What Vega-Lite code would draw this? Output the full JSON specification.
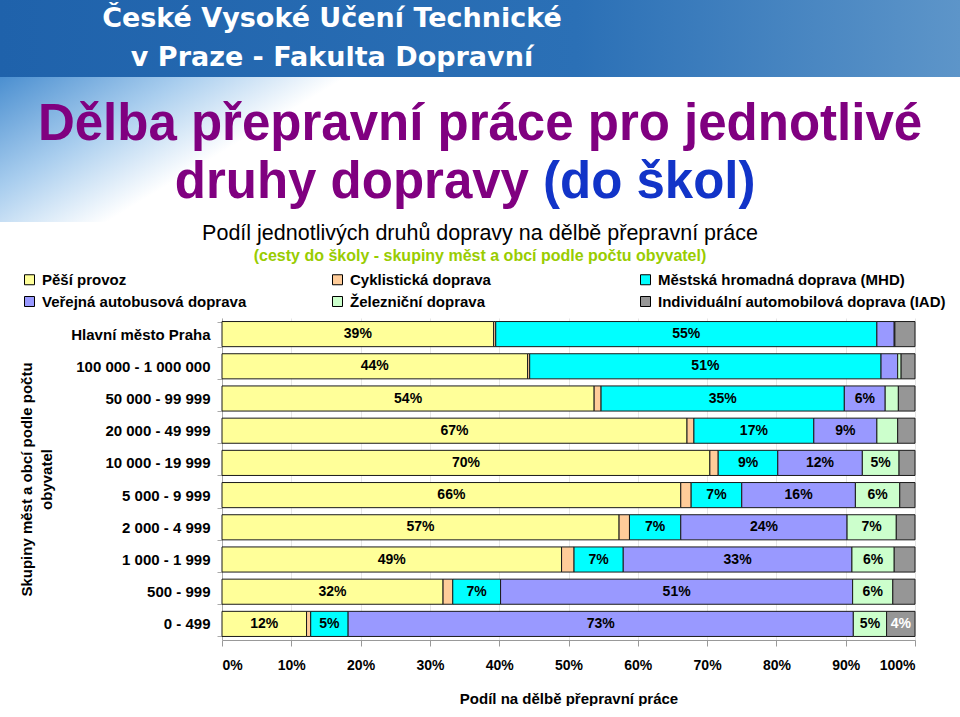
{
  "$schema": "https://vega.github.io/schema/vega-lite/v6.json",
  "padding": 0,
  "spacing": 0,
  "background": "white",
  "config": {"font": "Liberation Sans", "view": {"stroke": null}},
  "resolve": {"scale": {"color": "independent"}, "legend": {"color": "independent"}},
  "vconcat": [
    {
      "width": 960,
      "height": 77,
      "view": {"stroke": null, "fill": {"gradient": "linear", "x1": 0, "y1": 0, "x2": 1, "y2": 0, "stops": [{"offset": 0, "color": "#1f62ab"}, {"offset": 0.6, "color": "#2b70b6"}, {"offset": 1, "color": "#5d95c9"}]}},
      "data": {"values": [{"line": 1, "text": "České Vysoké Učení Technické"}, {"line": 2, "text": "v Praze - Fakulta Dopravní"}]},
      "mark": {"type": "text", "font": "DejaVu Sans", "fontWeight": "bold", "fontSize": 27, "color": "white", "dx": -148},
      "encoding": {
        "y": {"field": "line", "type": "ordinal", "axis": null},
        "text": {"field": "text"}
      }
    },
    {
      "width": 960,
      "height": 145,
      "view": {"stroke": null, "fill": {"gradient": "linear", "x1": 0, "y1": 0, "x2": 1, "y2": 0.25, "stops": [{"offset": 0, "color": "#4b8fd0"}, {"offset": 0.18, "color": "#a8cdee"}, {"offset": 0.34, "color": "#ffffff"}, {"offset": 1, "color": "#ffffff"}]}},
      "data": {"values": [
        {"line": 1, "part": "a", "text": "Dělba přepravní práce pro jednotlivé"},
        {"line": 2, "part": "b", "text": "druhy dopravy"},
        {"line": 2, "part": "c", "text": "(do škol)"}
      ]},
      "encoding": {
        "y": {"field": "line", "type": "ordinal", "axis": null, "scale": {"padding": 0.75}},
        "text": {"field": "text"}
      },
      "layer": [
        {"transform": [{"filter": "datum.part == 'a'"}], "mark": {"type": "text", "font": "Liberation Sans", "fontWeight": "bold", "fontSize": 51, "color": "#800080", "dy": 4}},
        {"transform": [{"filter": "datum.part == 'b'"}], "mark": {"type": "text", "font": "Liberation Sans", "fontWeight": "bold", "fontSize": 51, "color": "#800080", "align": "right", "dx": 49, "dy": 4}},
        {"transform": [{"filter": "datum.part == 'c'"}], "mark": {"type": "text", "font": "Liberation Sans", "fontWeight": "bold", "fontSize": 51, "color": "#1234c8", "align": "left", "dx": 63, "dy": 4}}
      ]
    },
    {
      "width": 960,
      "height": 322,
      "view": {"stroke": null},
      "title": {
        "text": "Podíl jednotlivých druhů dopravy na dělbě přepravní práce",
        "subtitle": "(cesty do školy - skupiny měst a obcí podle počtu obyvatel)",
        "anchor": "middle",
        "frame": "group",
        "font": "Liberation Sans",
        "fontSize": 21.5,
        "fontWeight": "normal",
        "color": "black",
        "subtitleFont": "Liberation Sans",
        "subtitleFontSize": 16,
        "subtitleFontWeight": "bold",
        "subtitleColor": "#99cc00",
        "subtitlePadding": 4,
        "offset": 8
      },
      "data": {"values": [
        {"g": "Hlavní město Praha", "m": "Pěší provoz", "v": 39.2},
        {"g": "Hlavní město Praha", "m": "Cyklistická doprava", "v": 0.3},
        {"g": "Hlavní město Praha", "m": "Městská hromadná doprava (MHD)", "v": 55.0},
        {"g": "Hlavní město Praha", "m": "Veřejná autobusová doprava", "v": 2.5},
        {"g": "Hlavní město Praha", "m": "Železniční doprava", "v": 0.1},
        {"g": "Hlavní město Praha", "m": "Individuální automobilová doprava (IAD)", "v": 2.9},
        {"g": "100 000 - 1 000 000", "m": "Pěší provoz", "v": 44.1},
        {"g": "100 000 - 1 000 000", "m": "Cyklistická doprava", "v": 0.3},
        {"g": "100 000 - 1 000 000", "m": "Městská hromadná doprava (MHD)", "v": 50.7},
        {"g": "100 000 - 1 000 000", "m": "Veřejná autobusová doprava", "v": 2.4},
        {"g": "100 000 - 1 000 000", "m": "Železniční doprava", "v": 0.5},
        {"g": "100 000 - 1 000 000", "m": "Individuální automobilová doprava (IAD)", "v": 2.0},
        {"g": "50 000 - 99 999", "m": "Pěší provoz", "v": 53.7},
        {"g": "50 000 - 99 999", "m": "Cyklistická doprava", "v": 1.0},
        {"g": "50 000 - 99 999", "m": "Městská hromadná doprava (MHD)", "v": 35.1},
        {"g": "50 000 - 99 999", "m": "Veřejná autobusová doprava", "v": 5.9},
        {"g": "50 000 - 99 999", "m": "Železniční doprava", "v": 1.9},
        {"g": "50 000 - 99 999", "m": "Individuální automobilová doprava (IAD)", "v": 2.4},
        {"g": "20 000 - 49 999", "m": "Pěší provoz", "v": 67.1},
        {"g": "20 000 - 49 999", "m": "Cyklistická doprava", "v": 1.0},
        {"g": "20 000 - 49 999", "m": "Městská hromadná doprava (MHD)", "v": 17.3},
        {"g": "20 000 - 49 999", "m": "Veřejná autobusová doprava", "v": 9.1},
        {"g": "20 000 - 49 999", "m": "Železniční doprava", "v": 3.0},
        {"g": "20 000 - 49 999", "m": "Individuální automobilová doprava (IAD)", "v": 2.5},
        {"g": "10 000 - 19 999", "m": "Pěší provoz", "v": 70.4},
        {"g": "10 000 - 19 999", "m": "Cyklistická doprava", "v": 1.2},
        {"g": "10 000 - 19 999", "m": "Městská hromadná doprava (MHD)", "v": 8.6},
        {"g": "10 000 - 19 999", "m": "Veřejná autobusová doprava", "v": 12.2},
        {"g": "10 000 - 19 999", "m": "Železniční doprava", "v": 5.3},
        {"g": "10 000 - 19 999", "m": "Individuální automobilová doprava (IAD)", "v": 2.3},
        {"g": "5 000 - 9 999", "m": "Pěší provoz", "v": 66.2},
        {"g": "5 000 - 9 999", "m": "Cyklistická doprava", "v": 1.5},
        {"g": "5 000 - 9 999", "m": "Městská hromadná doprava (MHD)", "v": 7.3},
        {"g": "5 000 - 9 999", "m": "Veřejná autobusová doprava", "v": 16.4},
        {"g": "5 000 - 9 999", "m": "Železniční doprava", "v": 6.4},
        {"g": "5 000 - 9 999", "m": "Individuální automobilová doprava (IAD)", "v": 2.2},
        {"g": "2 000 - 4 999", "m": "Pěší provoz", "v": 57.3},
        {"g": "2 000 - 4 999", "m": "Cyklistická doprava", "v": 1.5},
        {"g": "2 000 - 4 999", "m": "Městská hromadná doprava (MHD)", "v": 7.4},
        {"g": "2 000 - 4 999", "m": "Veřejná autobusová doprava", "v": 24.0},
        {"g": "2 000 - 4 999", "m": "Železniční doprava", "v": 7.1},
        {"g": "2 000 - 4 999", "m": "Individuální automobilová doprava (IAD)", "v": 2.7},
        {"g": "1 000 - 1 999", "m": "Pěší provoz", "v": 49.0},
        {"g": "1 000 - 1 999", "m": "Cyklistická doprava", "v": 1.8},
        {"g": "1 000 - 1 999", "m": "Městská hromadná doprava (MHD)", "v": 7.1},
        {"g": "1 000 - 1 999", "m": "Veřejná autobusová doprava", "v": 33.0},
        {"g": "1 000 - 1 999", "m": "Železniční doprava", "v": 6.1},
        {"g": "1 000 - 1 999", "m": "Individuální automobilová doprava (IAD)", "v": 3.0},
        {"g": "500 - 999", "m": "Pěší provoz", "v": 31.9},
        {"g": "500 - 999", "m": "Cyklistická doprava", "v": 1.4},
        {"g": "500 - 999", "m": "Městská hromadná doprava (MHD)", "v": 6.9},
        {"g": "500 - 999", "m": "Veřejná autobusová doprava", "v": 50.8},
        {"g": "500 - 999", "m": "Železniční doprava", "v": 5.8},
        {"g": "500 - 999", "m": "Individuální automobilová doprava (IAD)", "v": 3.2},
        {"g": "0 - 499", "m": "Pěší provoz", "v": 12.2},
        {"g": "0 - 499", "m": "Cyklistická doprava", "v": 0.6},
        {"g": "0 - 499", "m": "Městská hromadná doprava (MHD)", "v": 5.4},
        {"g": "0 - 499", "m": "Veřejná autobusová doprava", "v": 72.9},
        {"g": "0 - 499", "m": "Železniční doprava", "v": 4.8},
        {"g": "0 - 499", "m": "Individuální automobilová doprava (IAD)", "v": 4.1}
      ]},
      "transform": [
        {"calculate": "indexof(['Pěší provoz','Cyklistická doprava','Městská hromadná doprava (MHD)','Veřejná autobusová doprava','Železniční doprava','Individuální automobilová doprava (IAD)'], datum.m)", "as": "ord"},
        {"stack": "v", "groupby": ["g"], "sort": [{"field": "ord", "order": "ascending"}], "as": ["v0", "v1"]},
        {"calculate": "(datum.v0 + datum.v1) / 2", "as": "mid"},
        {"calculate": "format(datum.v, '.0f') + '%'", "as": "label"}
      ],
      "encoding": {
        "y": {
          "field": "g", "type": "nominal",
          "sort": ["Hlavní město Praha", "100 000 - 1 000 000", "50 000 - 99 999", "20 000 - 49 999", "10 000 - 19 999", "5 000 - 9 999", "2 000 - 4 999", "1 000 - 1 999", "500 - 999", "0 - 499"],
          "scale": {"paddingInner": 0.22, "paddingOuter": 0.11},
          "axis": {
            "offset": -222,
            "title": ["Skupiny měst a obcí podle počtu", "obyvatel"],
            "titleFont": "Liberation Sans", "titleFontSize": 15, "titleFontWeight": "bold", "titleColor": "black",
            "titlePadding": 16, "titleLineHeight": 20,
            "labelFont": "Liberation Sans", "labelFontSize": 15, "labelFontWeight": "bold", "labelColor": "black",
            "labelPadding": 7, "tickBand": "extent", "tickSize": 5, "tickColor": "#aaaaaa",
            "domain": true, "domainColor": "#aaaaaa", "labelLimit": 300
          }
        }
      },
      "layer": [
        {
          "mark": {"type": "bar", "stroke": "#1a1a1a", "strokeWidth": 1},
          "encoding": {
            "x": {
              "field": "v0", "type": "quantitative",
              "scale": {"domain": [0, 100], "range": [222, 915], "nice": false},
              "axis": {
                "title": "Podíl na dělbě přepravní práce",
                "titleFont": "Liberation Sans", "titleFontSize": 15, "titleFontWeight": "bold", "titleColor": "black", "titlePadding": 19,
                "values": [0, 10, 20, 30, 40, 50, 60, 70, 80, 90, 100],
                "labelExpr": "datum.value + '%'",
                "labelFont": "Liberation Sans", "labelFontSize": 14, "labelFontWeight": "bold", "labelColor": "black",
                "labelPadding": 12, "tickSize": 6, "tickColor": "#999999",
                "domainColor": "#999999", "grid": true, "gridColor": "#e6e6e6"
              }
            },
            "x2": {"field": "v1"},
            "color": {
              "field": "m", "type": "nominal",
              "scale": {
                "domain": ["Pěší provoz", "Veřejná autobusová doprava", "Cyklistická doprava", "Železniční doprava", "Městská hromadná doprava (MHD)", "Individuální automobilová doprava (IAD)"],
                "range": ["#FFFF99", "#9999FF", "#FFCC99", "#CCFFCC", "#00FFFF", "#969696"]
              },
              "legend": {
                "title": null, "orient": "none", "legendX": 22, "legendY": -46, "padding": 0,
                "columns": 3, "gridAlign": "all", "columnPadding": 0, "rowPadding": 6,
                "symbolType": "square", "symbolSize": 100, "symbolStrokeColor": "black", "symbolStrokeWidth": 1,
                "labelFont": "Liberation Sans", "labelFontSize": 15, "labelFontWeight": "bold", "labelColor": "black",
                "labelLimit": 400, "labelOffset": 5
              }
            }
          }
        },
        {
          "transform": [{"filter": "datum.v >= 3.5"}],
          "mark": {"type": "text", "font": "Liberation Sans", "fontSize": 14, "fontWeight": "bold"},
          "encoding": {
            "x": {"field": "mid", "type": "quantitative"},
            "text": {"field": "label"},
            "color": {"condition": {"test": "datum.m == 'Individuální automobilová doprava (IAD)'", "value": "white"}, "value": "black"}
          }
        }
      ]
    }
  ]
}
